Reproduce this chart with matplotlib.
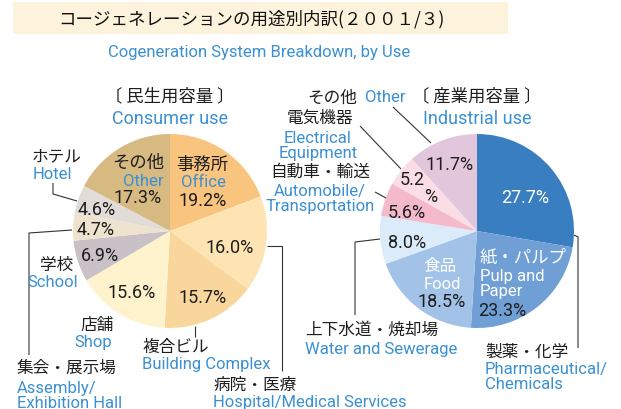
import matplotlib
matplotlib.use("Agg")
import matplotlib.pyplot as plt
from matplotlib.patches import Rectangle

# ---- data ----
consumer_labels_jp = ["事務所", "病院・医療", "複合ビル", "店舗", "学校", "集会・展示場", "ホテル", "その他"]
consumer_labels_en = ["Office", "Hospital/Medical Services", "Building Complex", "Shop", "School",
                      "Assembly/\nExhibition Hall", "Hotel", "Other"]
consumer_values = [19.2, 16.0, 15.7, 15.6, 6.9, 4.7, 4.6, 17.3]
consumer_colors = ["#F8C47E", "#FDE4B2", "#F9D69B", "#FEF3CD", "#C9C1C6", "#EEE3CF", "#E2DCD9", "#D7B982"]

industrial_labels_jp = ["製薬・化学", "紙・パルプ", "食品", "上下水道・焼却場", "自動車・輸送", "電気機器", "その他"]
industrial_labels_en = ["Pharmaceutical/\nChemicals", "Pulp and\nPaper", "Food", "Water and Sewerage",
                        "Automobile/\nTransportation", "Electrical\nEquipment", "Other"]
industrial_values = [27.7, 23.3, 18.5, 8.0, 5.6, 5.2, 11.7]
industrial_colors = ["#3A7EC2", "#6F9FD5", "#A2C2E7", "#DBEBF9", "#F4B9CB", "#FADDE6", "#E2C7DC"]

W, H = 621, 410
JP = ["Noto Sans CJK JP", "DejaVu Sans"]
EN = ["Roboto", "DejaVu Sans"]
BLUE = "#3A90D2"
DARK = "#1E1E1E"
LINE = "#333333"

fig = plt.figure(figsize=(W / 100, H / 100), dpi=100)
ax = fig.add_axes([0, 0, 1, 1])

def Y(py):
    return H - py

R = 97
ax.pie(consumer_values, colors=consumer_colors, startangle=90, counterclock=False,
       center=(170, Y(232)), radius=R, wedgeprops=dict(linewidth=0), frame=True)
ax.pie(industrial_values, colors=industrial_colors, startangle=90, counterclock=False,
       center=(477, Y(232)), radius=R, wedgeprops=dict(linewidth=0), frame=True)

ax.set_xlim(0, W)
ax.set_ylim(0, H)
ax.set_aspect("equal")
ax.axis("off")

# title banner
ax.add_patch(Rectangle((13, Y(35)), 495, 32, facecolor="#FDF3DC", edgecolor="none", zorder=0))
ax.text(251, Y(19), "コージェネレーションの用途別内訳(２００１/３)", family=JP, fontsize=12.6,
        color="#111111", ha="center", va="center")
ax.text(259, Y(52), "Cogeneration System Breakdown, by Use", family=EN, fontsize=12,
        color=BLUE, ha="center", va="center")

def jp(x, y, s, size=12, color=DARK, ha="center"):
    ax.text(x, Y(y), s, family=JP, fontsize=size, color=color, ha=ha, va="center")

def en(x, y, s, size=12, color=BLUE, ha="center", ls=0.95):
    ax.text(x, Y(y), s, family=EN, fontsize=size, color=color, ha=ha, va="center", linespacing=ls)

def pct(x, y, s, color=DARK, size=13):
    ax.text(x, Y(y), s, family=EN, fontsize=size, color=color, ha="center", va="center")

def line(pts):
    xs = [p[0] for p in pts]
    ys = [Y(p[1]) for p in pts]
    ax.plot(xs, ys, color=LINE, lw=0.8, solid_capstyle="butt")

# ---- consumer pie ----
jp(170, 96, "〔 民生用容量 〕", size=12.5)
en(170, 119, "Consumer use", size=13)

jp(202, 165, consumer_labels_jp[0], size=12.5)
en(203, 183, consumer_labels_en[0])
pct(203, 201, f"{consumer_values[0]}%")

jp(138, 163, consumer_labels_jp[7], size=12.5)
en(143, 182, consumer_labels_en[7])
pct(138, 198, f"{consumer_values[7]}%")

pct(230, 248, f"{consumer_values[1]:.1f}%")
pct(203, 298, f"{consumer_values[2]}%")
pct(132, 293, f"{consumer_values[3]}%")
pct(100, 256, f"{consumer_values[4]}%")
pct(96, 230, f"{consumer_values[5]}%")
pct(97, 210, f"{consumer_values[6]}%")

# hotel
jp(57, 157, consumer_labels_jp[6])
en(52, 175, consumer_labels_en[6])
line([(53, 184), (53, 195), (77, 202)])
# assembly
line([(72, 231), (29, 234), (29, 356)])
jp(17, 368, consumer_labels_jp[5], ha="left")
en(17, 396, consumer_labels_en[5], ha="left")
# school
jp(57, 265, consumer_labels_jp[4])
en(53, 283, consumer_labels_en[4])
# shop
jp(97, 326, consumer_labels_jp[3])
en(93, 343, consumer_labels_en[3])
# building complex
line([(195, 327), (195, 338)])
jp(142, 347, consumer_labels_jp[2], ha="left")
en(142, 365, consumer_labels_en[2], ha="left")
# hospital
line([(267, 247), (282, 247), (282, 372)])
jp(213, 385, consumer_labels_jp[1], ha="left")
en(213, 403, consumer_labels_en[1], ha="left")

# ---- industrial pie ----
jp(477, 96, "〔 産業用容量 〕", size=12.5)
en(477, 119, "Industrial use", size=13)

pct(525, 198, f"{industrial_values[0]}%", color="white")
jp(480, 257, industrial_labels_jp[1], color="white", ha="left", size=12.5)
en(480, 284, industrial_labels_en[1], color="white", ha="left")
pct(502, 311, f"{industrial_values[1]}%")
jp(440, 267, industrial_labels_jp[2], color="white")
en(442, 285, industrial_labels_en[2], color="white")
pct(442, 302, f"{industrial_values[2]}%")
pct(407, 243, f"{industrial_values[3]:.1f}%")
pct(407, 213, f"{industrial_values[4]}%")
pct(412, 180, f"{industrial_values[5]}")
pct(431, 197, "%")
pct(450, 165, f"{industrial_values[6]}%")

# other
jp(332, 98, industrial_labels_jp[6])
en(385, 98, industrial_labels_en[6])
line([(393, 108), (431, 144)])
# electrical
jp(320, 118, industrial_labels_jp[5])
en(318, 146, industrial_labels_en[5])
line([(360, 127), (401, 170)])
# automobile
jp(320, 172, industrial_labels_jp[4])
en(320, 199, industrial_labels_en[4])
line([(375, 193), (386, 199)])
# water
line([(380, 240), (355, 243), (355, 316)])
jp(305, 330, industrial_labels_jp[3], ha="left")
en(305, 350, industrial_labels_en[3], ha="left")
# pharma
line([(574, 236), (578, 238), (578, 349)])
jp(485, 352, industrial_labels_jp[0], ha="left")
en(485, 377, industrial_labels_en[0], ha="left")

fig.savefig("out.png", dpi=100)
